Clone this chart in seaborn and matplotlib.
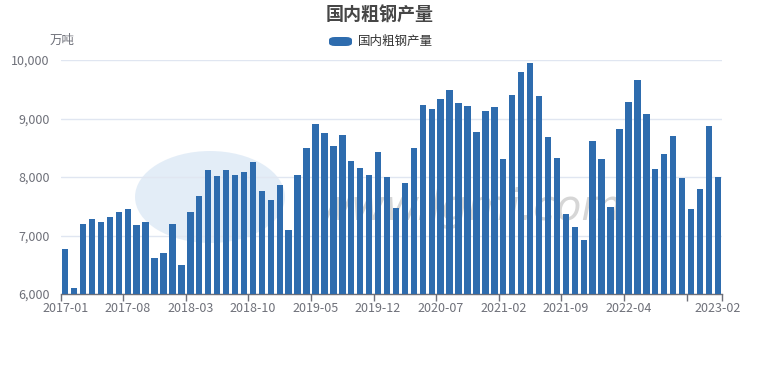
import matplotlib
matplotlib.use("Agg")
import matplotlib.pyplot as plt
import seaborn as sns
import pandas as pd
import numpy as np
from matplotlib.patches import Ellipse, FancyBboxPatch
from matplotlib.ticker import FuncFormatter, FixedLocator

months = [f"{y}-{m:02d}" for y in range(2017, 2024) for m in range(1, 13)][:74]
output = [
    6763, 6108, 7202, 7276, 7225, 7322, 7402, 7453, 7185, 7236, 6610, 6707,
    7197, 6490, 7402, 7675, 8114, 8017, 8120, 8034, 8085, 8251, 7761, 7607,
    7858, 7094, 8034, 8501, 8912, 8752, 8524, 8724, 8274, 8148, 8028, 8427,
    7994, 7476, 7897, 8501, 9228, 9157, 9333, 9481, 9259, 9219, 8764, 9123,
    9191, 8302, 9407, 9789, 9943, 9385, 8678, 8319, 7368, 7151, 6923, 8615,
    8302, 7493, 8826, 9276, 9658, 9071, 8142, 8387, 8695, 7977, 7447, 7789,
    8866, 8006,
]
series_name = "国内粗钢产量"
title = "国内粗钢产量"
unit = "万吨"
label_idx = [0, 7, 14, 21, 28, 35, 42, 49, 56, 63, 73]

df = pd.DataFrame({"month": months, "value": output})

sns.set_theme(style="white")
plt.rcParams["font.family"] = ["Noto Sans CJK SC", "DejaVu Sans"]

BLUE = "#2e6cae"
GREY = "#6e7079"

fig = plt.figure(figsize=(7.6, 3.7), dpi=100)

# faint watermark (behind the plot)
wm = Ellipse((210 / 760, 1 - 197 / 370), 150 / 760, 92 / 370, transform=fig.transFigure,
             facecolor="#c9dcf0", edgecolor="none", alpha=0.5, zorder=-5)
fig.patches.append(wm)
fig.text(470 / 760, 1 - 208 / 370, "www.lgmi.com", fontsize=30, color="#d6d6d6",
         style="italic", ha="center", va="center", zorder=-5, family="DejaVu Sans")

ax = fig.add_axes([60.7 / 760, 1 - 294 / 370, (722.3 - 60.7) / 760, (294 - 60) / 370])
ax.set_zorder(2)
ax.patch.set_alpha(0)

sns.barplot(data=df, x="month", y="value", order=months, color=BLUE,
            width=0.72, saturation=1, linewidth=0, ax=ax, zorder=3)

ax.set_xlim(-0.5, len(months) - 0.5)
ax.set_ylim(6000, 10000)
ax.set_yticks([6000, 7000, 8000, 9000, 10000])
ax.yaxis.set_major_formatter(FuncFormatter(lambda v, p: f"{int(v):,}"))
ax.grid(axis="y", color="#e0e6f1", linewidth=1, zorder=0)
ax.set_axisbelow(True)

ax.set_xticks(label_idx)
ax.set_xticklabels([months[i] for i in label_idx])
ax.xaxis.set_minor_locator(FixedLocator([i - 0.5 for i in range(0, 71, 7)] + [len(months) - 0.5]))
ax.tick_params(axis="x", which="major", length=0, labelsize=9, colors=GREY, pad=6)
ax.tick_params(axis="x", which="minor", length=5, width=1, color=GREY, bottom=True)
ax.tick_params(axis="y", length=0, labelsize=9, colors=GREY, pad=8)

for s in ["top", "right", "left"]:
    ax.spines[s].set_visible(False)
ax.spines["bottom"].set_color(GREY)
ax.spines["bottom"].set_linewidth(1)
ax.set_xlabel("")
ax.set_ylabel("")

fig.text(380 / 760, 1 - 15 / 370, title, ha="center", va="center", fontsize=13,
         fontweight="bold", color="#464646")
fig.text(62 / 760, 1 - 40 / 370, unit, ha="center", va="center", fontsize=9, color=GREY)

leg = FancyBboxPatch((329 / 760, 1 - 46 / 370), 23 / 760, 9 / 370,
                     boxstyle="round,pad=0,rounding_size=0.008", transform=fig.transFigure,
                     facecolor=BLUE, edgecolor="none")
fig.patches.append(leg)
fig.text(358 / 760, 1 - 41.5 / 370, series_name, ha="left", va="center", fontsize=9,
         color="#333333")

fig.savefig("out.png", dpi=100)
